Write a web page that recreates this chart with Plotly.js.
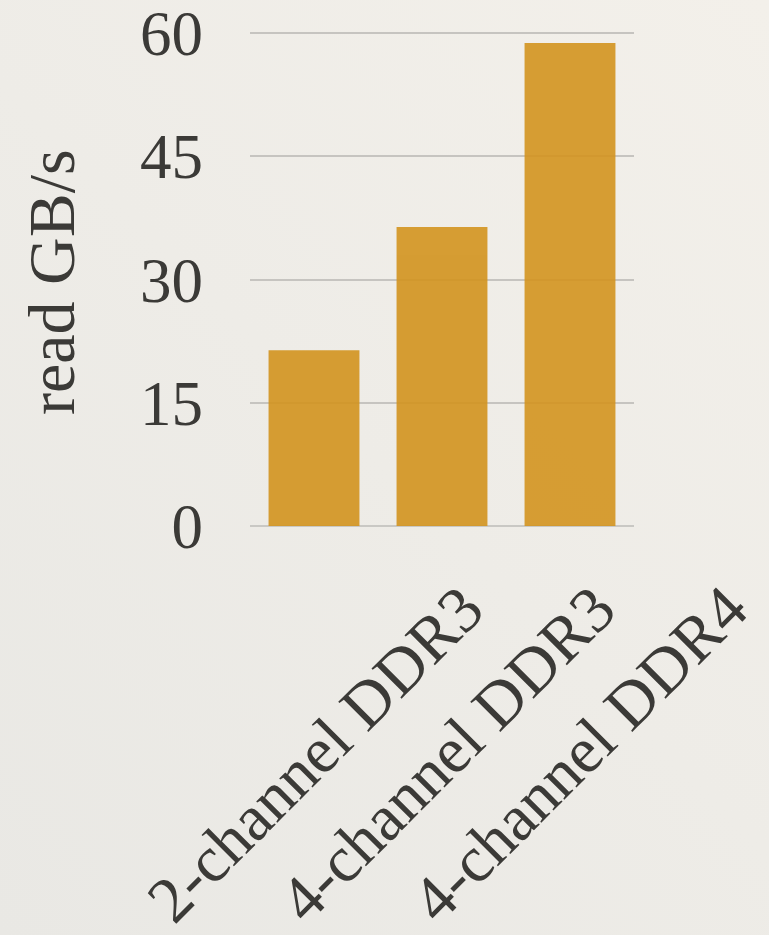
<!DOCTYPE html>
<html>
<head>
<meta charset="utf-8">
<script src="https://cdn.plot.ly/plotly-3.0.1.min.js"></script>
<style>
  html, body { margin: 0; padding: 0; }
  body {
    width: 769px; height: 935px; overflow: hidden;
    background: linear-gradient(225deg, #f3f0ea 0%, #eeece7 50%, #e9e8e4 100%);
  }
  #chart { width: 769px; height: 935px; }
</style>
</head>
<body>
<div id="chart"></div>
<script>
// Memory read bandwidth by configuration
const categories = ['2-channel DDR3', '4-channel DDR3', '4-channel DDR4'];
const readGBs = [21.4, 36.4, 58.8];
const yTicks = [0, 15, 30, 45, 60];

const serif = 'Liberation Serif, Times New Roman, serif';
const ink = '#3b3a37';

const bars = {
  type: 'bar',
  x: categories,
  y: readGBs,
  marker: { color: '#d3941f', line: { width: 0 } },
  opacity: 0.9,
  hoverinfo: 'x+y'
};

// Rotated category labels, centred under each bar
const labelShift = [1, 5, 9];
const labels = categories.map((c, i) => ({
  xref: 'x', yref: 'paper',
  x: c, y: 0,
  xanchor: 'center', yanchor: 'middle',
  xshift: labelShift[i], yshift: -228,
  text: c, textangle: -45, showarrow: false,
  font: { family: serif, size: 65, color: ink }
}));

const yTitle = {
  xref: 'paper', yref: 'paper',
  x: -0.518, y: 0.487,
  xanchor: 'center', yanchor: 'middle',
  text: 'read GB/s', textangle: -90, showarrow: false,
  font: { family: serif, size: 66, color: ink }
};

const layout = {
  width: 769, height: 935,
  margin: { l: 250, r: 135, t: 25, b: 409, pad: 0 },
  paper_bgcolor: 'rgba(0,0,0,0)',
  plot_bgcolor: 'rgba(0,0,0,0)',
  showlegend: false,
  bargap: 0.29,
  xaxis: {
    type: 'category',
    range: [-0.5, 2.5],
    showticklabels: false,
    showgrid: false,
    zeroline: false,
    showline: false,
    ticks: ''
  },
  yaxis: {
    range: [0, 61],
    tickmode: 'array',
    tickvals: yTicks,
    ticktext: yTicks.map(String),
    tickfont: { family: serif, size: 63, color: ink },
    ticklabeloverflow: 'allow',
    ticks: '',
    ticklabelstandoff: 46,
    showgrid: true,
    gridcolor: '#c6c4c0',
    gridwidth: 2,
    zeroline: true,
    zerolinecolor: '#c9c8c4',
    zerolinewidth: 2,
    showline: false
  },
  annotations: labels.concat([yTitle])
};

Plotly.newPlot('chart', [bars], layout, { displayModeBar: false, staticPlot: true });
</script>
</body>
</html>
